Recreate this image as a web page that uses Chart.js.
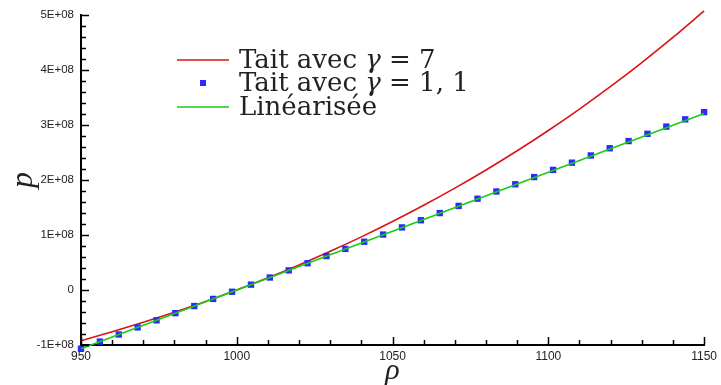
<!DOCTYPE html>
<html lang="fr">
<head>
<meta charset="UTF-8">
<title>Tait vs linéarisée</title>
<style>
  html,body{margin:0;padding:0;background:#fff;}
  #wrap{width:721px;height:385px;position:relative;}
</style>
<script src="https://cdn.jsdelivr.net/npm/chart.js@4"></script>
</head>
<body>
<div id="wrap"><canvas id="c"></canvas></div>
<script>
// valeurs : rho (kg/m3), p (Pa)
const rhoTait7 = [950,960,970,980,990,1000,1010,1020,1030,1040,1050,1060,1070,1080,1090,1100,1110,1120,1130,1140,1150];
const pTait7   = [-9.22e7,-7.60e7,-5.87e7,-4.03e7,-2.08e7,0,2.21e7,4.55e7,7.03e7,9.66e7,1.245e8,1.540e8,1.852e8,2.182e8,2.531e8,2.900e8,3.290e8,3.701e8,4.135e8,4.592e8,5.075e8];

const rhoTait11 = [950,956.06,962.12,968.18,974.24,980.30,986.36,992.42,998.48,1004.55,1010.61,1016.67,1022.73,1028.79,1034.85,1040.91,1046.97,
                   1053.03,1059.09,1065.15,1071.21,1077.27,1083.33,1089.39,1095.45,1101.52,1107.58,1113.64,1119.70,1125.76,1131.82,1137.88,1143.94,1150];
const pTait11   = [-1.067e8,-9.38e7,-8.09e7,-6.80e7,-5.51e7,-4.21e7,-2.92e7,-1.62e7,-3.2e6,9.7e6,2.27e7,3.57e7,4.87e7,6.17e7,7.47e7,8.77e7,1.008e8,
                   1.138e8,1.268e8,1.399e8,1.529e8,1.660e8,1.791e8,1.922e8,2.053e8,2.184e8,2.315e8,2.446e8,2.577e8,2.708e8,2.840e8,2.971e8,3.103e8,3.234e8];

const rhoLin = [950,1000,1050,1100,1150];
const pLin   = [-1.07e8,0,1.07e8,2.14e8,3.21e8];

const legendLabels = [['Tait avec ','γ',' = 7'],['Tait avec ','γ',' = 1, 1'],['Linéarisée','','']];

const pts = (xs,ys) => xs.map((x,i)=>({x,y:ys[i]}));

// petites graduations vers l'intérieur (style Tecplot)
const innerTicks = {
  id:'innerTicks',
  afterDraw(ch){
    const {ctx,chartArea:a,scales:{x,y}} = ch;
    ctx.save();
    ctx.strokeStyle='#000'; ctx.lineWidth=1.5;
    ctx.beginPath();
    for(let v=950; v<=1150; v+=10){
      const px = Math.round(x.getPixelForValue(v))+.5, L = v%50 ? 5 : 8;
      ctx.moveTo(px,a.bottom); ctx.lineTo(px,a.bottom-L);
    }
    for(let v=-1e8; v<=5e8; v+=2e7){
      const py = Math.round(y.getPixelForValue(v))+.5, L = v%1e8 ? 5 : 8;
      ctx.moveTo(a.left,py); ctx.lineTo(a.left+L,py);
    }
    ctx.stroke();
    ctx.restore();
  }
};

// légende dans le graphe
const innerLegend = {
  id:'innerLegend',
  afterDraw(ch){
    const {ctx,chartArea:a} = ch;
    const ds = ch.data.datasets;
    const x0 = a.left+96, x1 = a.left+148, tx = a.left+158;
    const rows = [a.top+45, a.top+68, a.top+92];
    ctx.save();
    ctx.textBaseline='middle';
    legendLabels.forEach((parts,i)=>{
      const d = ds[i], yy = rows[i];
      if(d.showLine===false){
        ctx.fillStyle=d.pointBackgroundColor;
        ctx.fillRect((x0+x1)/2-3,yy-3,6,6);
      }else{
        ctx.strokeStyle=d.borderColor; ctx.lineWidth=d.borderWidth;
        ctx.beginPath(); ctx.moveTo(x0,yy); ctx.lineTo(x1,yy); ctx.stroke();
      }
      ctx.fillStyle='#222';
      let cx = tx;
      parts.forEach((s,k)=>{
        ctx.font = (k===1?'italic ':'')+'26px "DejaVu Serif"';
        ctx.fillText(s,cx,yy+1);
        cx += ctx.measureText(s).width;
      });
    });
    ctx.restore();
  }
};

new Chart(document.getElementById('c'),{
  type:'line',
  data:{datasets:[
    {data:pts(rhoTait7,pTait7),borderColor:'#d81414',borderWidth:1.6,pointRadius:0,cubicInterpolationMode:'monotone',clip:false,order:2},
    {data:pts(rhoTait11,pTait11),showLine:false,pointStyle:'rect',pointRadius:4.5,borderWidth:0,
     pointBackgroundColor:'#2a2aff',pointBorderWidth:0,clip:false,order:1},
    {data:pts(rhoLin,pLin),borderColor:'#18cc18',borderWidth:1.6,pointRadius:0,clip:false,order:0}
  ]},
  options:{
    responsive:true,maintainAspectRatio:false,animation:false,
    layout:{padding:{top:15,right:13,left:0,bottom:0}},
    plugins:{legend:{display:false},tooltip:{enabled:false}},
    scales:{
      x:{type:'linear',min:950,max:1150,
         grid:{display:false,drawTicks:false},border:{display:true,color:'#000',width:2},
         ticks:{stepSize:50,padding:4,color:'#222',font:{family:'"Liberation Sans"',size:12},callback:v=>String(v)},
         title:{display:true,text:'ρ',padding:{top:0,bottom:-4},color:'#222',font:{family:'"Liberation Serif"',style:'italic',size:30}},
         afterFit:s=>{s.height=40;}},
      y:{min:-1e8,max:5e8,
         grid:{display:false,drawTicks:false},border:{display:true,color:'#000',width:2},
         ticks:{stepSize:1e8,padding:7,color:'#222',font:{family:'"Liberation Sans"',size:11.5},
                callback:v=>v===0?'0':(v/1e8)+'E+08'},
         title:{display:true,text:'p',padding:4,color:'#222',font:{family:'"Liberation Serif"',style:'italic',size:32}},
         afterFit:s=>{s.width=81;}}
    }
  },
  plugins:[innerTicks,innerLegend]
});
</script>
</body>
</html>
